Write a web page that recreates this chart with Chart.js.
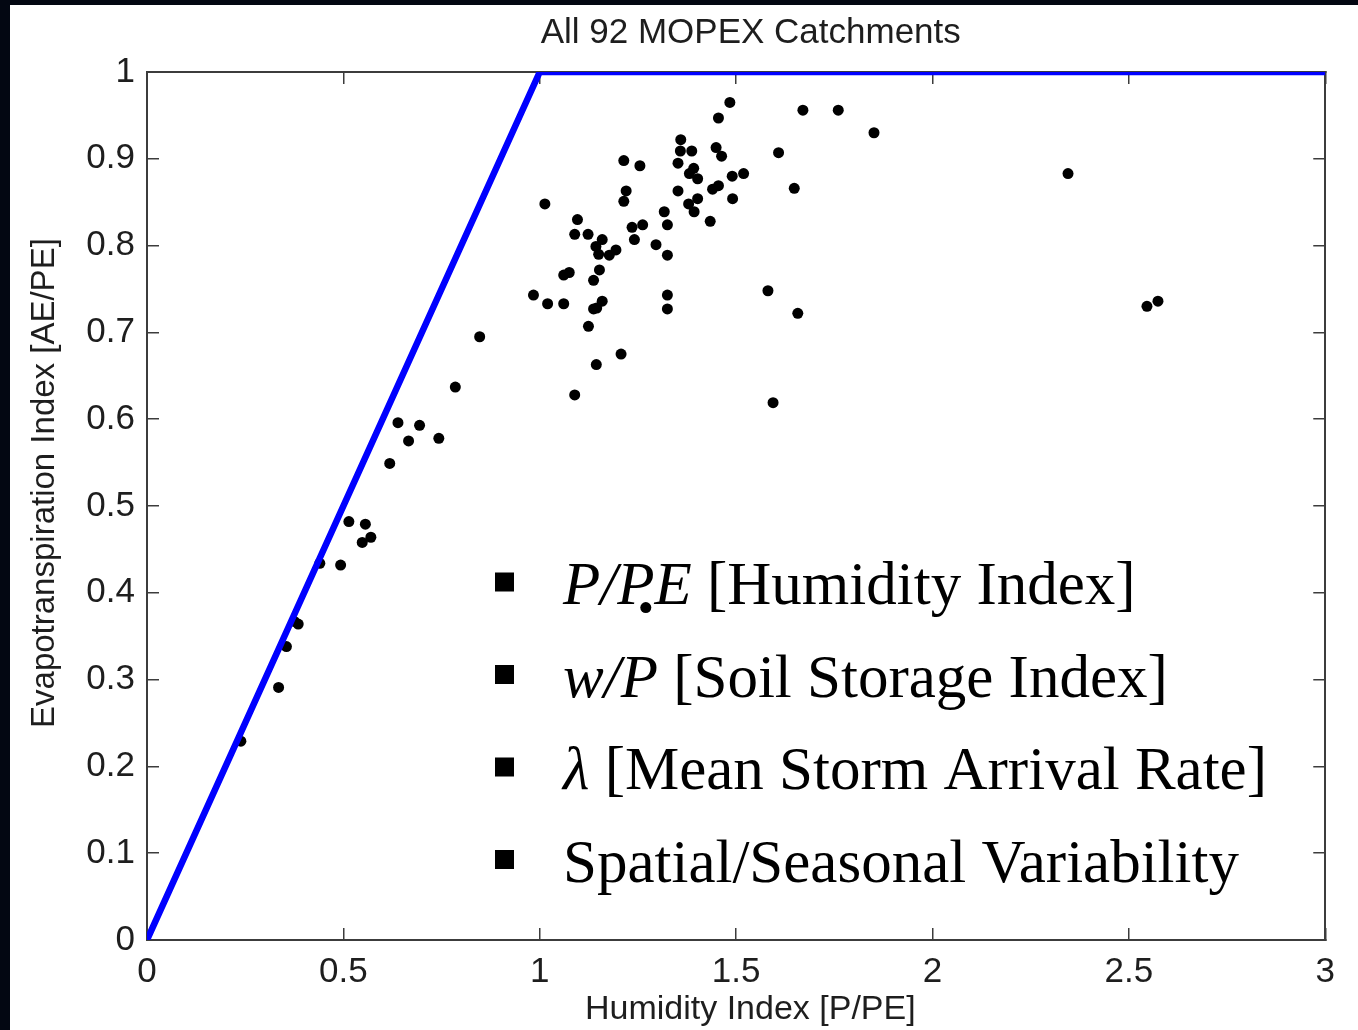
<!DOCTYPE html>
<html>
<head>
<meta charset="utf-8">
<script src="https://cdn.jsdelivr.net/npm/chart.js@4"></script>
<style>
  html, body { margin: 0; padding: 0; background: #030712; }
  #wrap { position: absolute; left: 10px; top: 5px; width: 1348px; height: 1025px; background: #fff; }
</style>
</head>
<body>
<div id="wrap"><canvas id="chart"></canvas></div>
<script>
// humidity index P/PE (x) and evapotranspiration index AE/PE (y), one entry per catchment
const humidity = [
  1.484, 1.455, 1.670, 1.760, 1.851, 1.359, 1.358, 1.387, 1.449, 1.463,
  1.608, 1.214, 1.255, 1.352, 1.392, 1.381, 1.402, 1.490, 1.519, 1.455,
  1.440, 1.648, 1.220, 1.214, 1.352, 1.402, 1.379, 1.393, 1.491, 1.013,
  1.434, 1.317, 1.325, 1.235, 1.262, 1.241, 1.296, 1.325, 1.096, 1.089,
  1.123, 1.159, 1.143, 1.150, 1.177, 1.194, 1.152, 1.137, 1.075, 1.061,
  0.984, 1.020, 1.061, 1.159, 1.137, 1.145, 1.325, 1.325, 1.124, 1.581,
  1.657, 1.207, 1.144, 1.089, 1.594, 2.345, 2.546, 2.574, 0.785, 0.639,
  0.694, 0.666, 0.743, 0.618, 0.514, 0.556, 0.570, 0.548, 0.440, 0.493,
  0.375, 0.385, 0.355, 0.335, 0.239, 0.847, 1.270
];
const evapIndex = [
  0.965, 0.947, 0.956, 0.956, 0.930, 0.922, 0.909, 0.909, 0.913, 0.903,
  0.907, 0.898, 0.892, 0.895, 0.889, 0.883, 0.877, 0.880, 0.883, 0.869,
  0.865, 0.866, 0.863, 0.851, 0.863, 0.854, 0.848, 0.839, 0.854, 0.848,
  0.828, 0.839, 0.824, 0.821, 0.824, 0.807, 0.801, 0.789, 0.830, 0.813,
  0.813, 0.807, 0.799, 0.790, 0.789, 0.795, 0.772, 0.760, 0.769, 0.766,
  0.743, 0.733, 0.733, 0.736, 0.727, 0.728, 0.743, 0.727, 0.707, 0.748,
  0.722, 0.675, 0.663, 0.628, 0.619, 0.883, 0.730, 0.736, 0.637, 0.596,
  0.593, 0.575, 0.578, 0.549, 0.482, 0.479, 0.464, 0.458, 0.434, 0.432,
  0.367, 0.364, 0.338, 0.291, 0.229, 0.695, 0.383
];

// energy / water limit (Budyko bound)
const limitX = [0, 1, 3];
const limitY = [0, 1, 1];

const xTicks = [0, 0.5, 1, 1.5, 2, 2.5, 3];
const yTicks = [0, 0.1, 0.2, 0.3, 0.4, 0.5, 0.6, 0.7, 0.8, 0.9, 1];

const bulletLines = [
  [{ t: 'P/PE', i: true }, { t: ' [Humidity Index]' }],
  [{ t: 'w/P', i: true }, { t: ' [Soil Storage Index]' }],
  [{ t: 'λ', i: true }, { t: ' [Mean Storm Arrival Rate]' }],
  [{ t: 'Spatial/Seasonal Variability' }]
];

const axisColor = '#3c3c3c';
const textColor = '#1e1e1e';
const sans = '"Liberation Sans", Arial, sans-serif';

const points = humidity.map((x, i) => ({ x: x, y: evapIndex[i] }));
const limit = limitX.map((x, i) => ({ x: x, y: limitY[i] }));

// bullet list drawn on top of the plot
const bulletPlugin = {
  id: 'bullets',
  afterDraw(chart) {
    const ctx = chart.ctx;
    ctx.save();
    ctx.fillStyle = '#000';
    ctx.textBaseline = 'alphabetic';
    ctx.textAlign = 'left';
    bulletLines.forEach((line, k) => {
      const cy = 577 + k * 92.5;
      ctx.fillRect(485, cy - 9.5, 19, 19);
      let x = 553;
      line.forEach(seg => {
        ctx.font = (seg.i ? 'italic ' : '') + '61px "Liberation Serif", "Times New Roman", serif';
        ctx.fillText(seg.t, x, cy + 22);
        x += ctx.measureText(seg.t).width;
      });
    });
    ctx.restore();
  }
};

const tickSet = vals => scale => { scale.ticks = vals.map(v => ({ value: v })); };

new Chart(document.getElementById('chart'), {
  type: 'scatter',
  data: {
    datasets: [
      {
        type: 'line',
        data: limit,
        borderColor: '#0000ff',
        borderWidth: 6.5,
        pointRadius: 0,
        fill: false,
        order: 0
      },
      {
        data: points,
        backgroundColor: '#000',
        borderColor: '#000',
        pointRadius: 5.5,
        borderWidth: 0,
        order: 1
      }
    ]
  },
  options: {
    responsive: true,
    maintainAspectRatio: false,
    animation: false,
    layout: { padding: { left: 0, right: 31, top: 0, bottom: 0 } },
    plugins: {
      legend: { display: false },
      tooltip: { enabled: false },
      title: {
        display: true,
        text: '   All 92 MOPEX Catchments',
        fullSize: false,
        color: textColor,
        font: { family: sans, size: 35, weight: 'normal' },
        padding: { top: 7, bottom: 18 }
      }
    },
    scales: {
      x: {
        type: 'linear',
        position: 'bottom',
        min: 0, max: 3,
        afterBuildTicks: tickSet(xTicks),
        afterFit: s => { s.height = 90; },
        border: { display: true, color: axisColor, width: 2 },
        grid: { drawOnChartArea: false, drawTicks: true, tickLength: -12, color: axisColor, lineWidth: 1.5 },
        ticks: {
          color: textColor,
          font: { family: sans, size: 35 },
          padding: 23,
          maxRotation: 0,
          callback: v => String(v)
        },
        title: {
          display: true,
          text: '   Humidity Index [P/PE]',
          color: textColor,
          font: { family: sans, size: 34 },
          padding: { top: 0, bottom: 0 }
        }
      },
      y: {
        type: 'linear',
        position: 'left',
        min: 0, max: 1,
        afterBuildTicks: tickSet(yTicks),
        afterFit: s => { s.width = 137; },
        border: { display: true, color: axisColor, width: 2 },
        grid: { drawOnChartArea: false, drawTicks: true, tickLength: -12, color: axisColor, lineWidth: 1.5 },
        ticks: {
          color: textColor,
          font: { family: sans, size: 35 },
          padding: 24,
          callback: v => String(v)
        },
        title: {
          display: true,
          text: '     Evapotranspiration Index [AE/PE]',
          color: textColor,
          font: { family: sans, size: 33 },
          padding: { top: 15, bottom: 0 }
        }
      },
      x2: {
        type: 'linear',
        position: 'top',
        min: 0, max: 3,
        afterBuildTicks: tickSet(xTicks),
        afterFit: s => { s.height = 0; },
        border: { display: true, color: axisColor, width: 2 },
        grid: { drawOnChartArea: false, drawTicks: true, tickLength: -12, color: axisColor, lineWidth: 1.5 },
        ticks: { display: false }
      },
      y2: {
        type: 'linear',
        position: 'right',
        min: 0, max: 1,
        afterBuildTicks: tickSet(yTicks),
        afterFit: s => { s.width = 0; },
        border: { display: true, color: axisColor, width: 2 },
        grid: { drawOnChartArea: false, drawTicks: true, tickLength: -12, color: axisColor, lineWidth: 1.5 },
        ticks: { display: false }
      }
    }
  },
  plugins: [bulletPlugin]
});
</script>
</body>
</html>
